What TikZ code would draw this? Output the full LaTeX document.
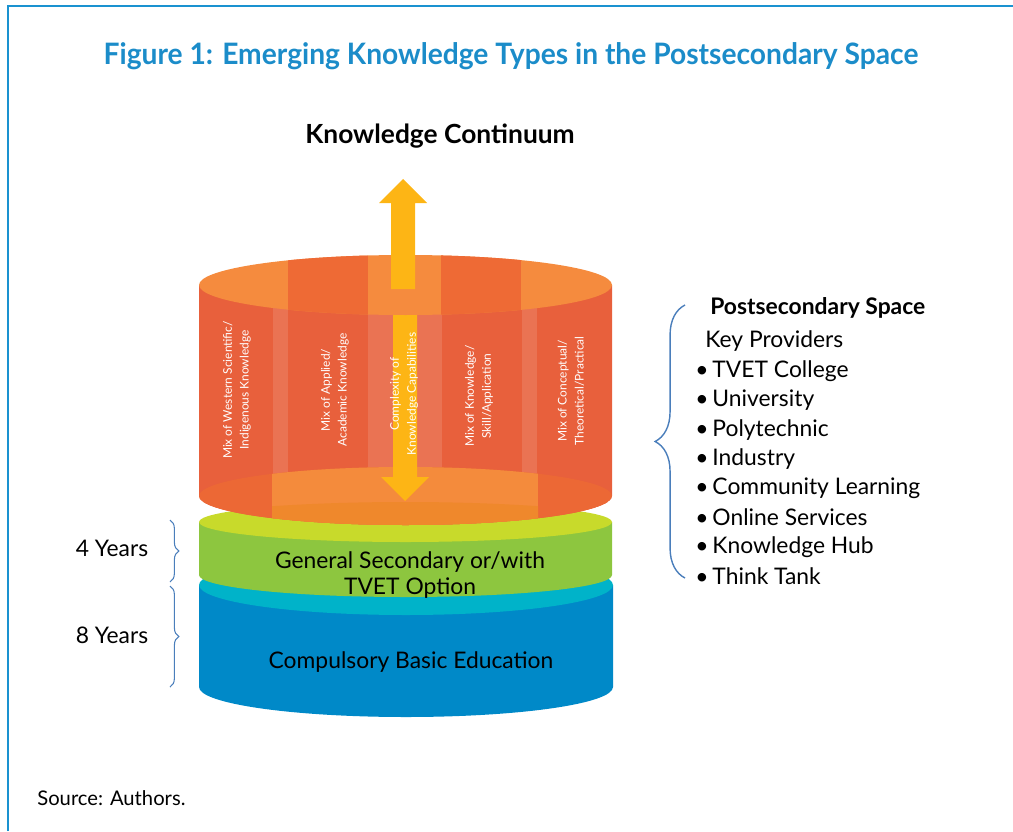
\documentclass[tikz,border=0pt]{standalone}
\usepackage{graphicx}
\usepackage{fontspec}
\setmainfont{Lato}
\usetikzlibrary{positioning}
\usetikzlibrary{calc}
\usetikzlibrary{decorations.pathreplacing}

\definecolor{frameblue}{HTML}{1A92D0}
\definecolor{titleblue}{HTML}{1B8CC9}
\definecolor{orangeside}{HTML}{E8603C}
\definecolor{orangefloor}{HTML}{EC6835}
\definecolor{orangetop}{HTML}{F58B3E}
\definecolor{orangeband}{HTML}{EE6A35}
\definecolor{orangebase}{HTML}{F48B3C}
\definecolor{orangedeep}{HTML}{EF882C}
\definecolor{arrowgold}{HTML}{FDB515}
\definecolor{greentop}{HTML}{C8DA2B}
\definecolor{greenside}{HTML}{8DC63F}
\definecolor{cyantop}{HTML}{00B3C9}
\definecolor{blueside}{HTML}{0089C8}
\definecolor{bracecol}{HTML}{4A7EBB}

\tikzset{
  bodytext/.style={font=\fontsize{13}{15.3}\selectfont, inner sep=0pt},
  sidetext/.style={text=white, font=\fontsize{6.8}{9.6}\selectfont, rotate=90, align=center, inner sep=0pt},
  yearbrace/.style={draw=bracecol, line width=#1, decorate},
}

\begin{document}
\begin{tikzpicture}[x=0.02cm, y=-0.02cm]

\useasboundingbox (0,0) rectangle (1013,831);

% page frame
\draw[frameblue, line width=1.1pt] (8,831) -- (8,6) -- (1013,6);

\node[font=\fontsize{16.8}{20}\selectfont\bfseries, text=titleblue] (title) at (511,56) {\scalebox{0.955}[1]{Figure 1: Emerging Knowledge Types in the Postsecondary Space}};
\node[font=\fontsize{15}{18}\selectfont\bfseries] (kcont) at (440,136) {Knowledge Continuum};

% basic education disk
\fill[blueside] (199,585) -- (199,687) arc[start angle=180, end angle=0, x radius=207, y radius=30] -- (613,585) -- cycle;
\fill[cyantop] (406,585) ellipse [x radius=207, y radius=30];

% secondary disk
\fill[greenside] (199,522) -- (199,575) arc[start angle=180, end angle=0, x radius=206.5, y radius=22] -- (612,575) -- (612,522) -- cycle;
\fill[greentop] (405.5,522) ellipse [x radius=206.5, y radius=20];

% postsecondary cylinder
\fill[orangeside] (199,285) -- (199,496) arc[start angle=180, end angle=0, x radius=206.5, y radius=29] -- (612,285) -- cycle;
\begin{scope}
  \clip (199,285) -- (199,496) arc[start angle=180, end angle=0, x radius=206.5, y radius=29] -- (612,285) -- cycle;
  \fill[white, opacity=0.12] (273,280) rectangle (288,530);
  \fill[white, opacity=0.12] (368,280) rectangle (442,530);
  \fill[white, opacity=0.12] (522,280) rectangle (537,530);
  \fill[orangefloor] (405.5,496) ellipse [x radius=206.5, y radius=29];
  \clip (405.5,496) ellipse [x radius=206.5, y radius=29];
  \fill[orangebase] (272,460) rectangle (538,530);
  \clip (272,460) rectangle (538,530);
  \fill[orangedeep] (405.5,532) ellipse [x radius=260, y radius=30];
\end{scope}

\fill[arrowgold] (393,300) -- (393,477) -- (381,477) -- (405,501) -- (429,477) -- (417,477) -- (417,300) -- cycle;

\fill[orangetop] (405.5,285) ellipse [x radius=206.5, y radius=30];
\begin{scope}
  \clip (405.5,285) ellipse [x radius=206.5, y radius=30];
  \fill[orangeband] (288,250) rectangle (368,320);
  \fill[orangeband] (441,250) rectangle (521,320);
\end{scope}

\fill[arrowgold] (391,289) -- (391,203) -- (379,203) -- (403,179) -- (427,203) -- (415,203) -- (415,289) -- cycle;

% knowledge types on the cylinder wall
\node[sidetext] (western) at (237,390) {Mix of Western Scientific/\\Indigenous Knowledge};
\node[sidetext] (applied) at (335,390) {Mix of Applied/\\Academic Knowledge};
\node[sidetext] (complexity) at (404,394) {Complexity of\\Knowledge Capabilities};
\node[sidetext] (skill) at (479,396) {Mix of Knowledge/\\Skill/Application};
\node[sidetext] (conceptual) at (571,391) {Mix of Conceptual/\\Theoretical/Practical};

\node[bodytext, align=center] (gensec) at (410,575) {General Secondary or/with\\TVET Option};
\node[bodytext] (basic) at (411,662) {Compulsory Basic Education};

% years
\node[bodytext] (four) at (112,548) {4 Years};
\node[bodytext] (eight) at (112,635) {8 Years};
\coordinate (fourtop) at (170,520);
\coordinate (fourbot) at (170,582);
\coordinate (eighttop) at (170,586);
\coordinate (eightbot) at (170,687);
\draw[yearbrace=0.6pt, decoration={brace, amplitude=5pt}] (fourtop) -- (fourbot);
\draw[yearbrace=0.6pt, decoration={brace, amplitude=5pt}] (eighttop) -- (eightbot);

% providers
\coordinate (spacebot) at (685,578);
\coordinate (spacetop) at (685,305);
\draw[yearbrace=0.8pt, decoration={brace, amplitude=17pt}] (spacebot) -- (spacetop);

\node[bodytext, font=\fontsize{13}{15}\selectfont\bfseries, anchor=west] (pspace) at (710,308) {Postsecondary Space};
\node[bodytext, anchor=west] (keyprov) at (705,341) {Key Providers};
\foreach \prov [count=\i from 0] in {TVET College, University, Polytechnic, Industry, Community Learning, Online Services, Knowledge Hub, Think Tank}
  \node[bodytext, anchor=west] (prov\i) at (695,{371+29.3*\i}) {•\hspace{2.2pt}\prov};

\node[bodytext, font=\fontsize{11.5}{13}\selectfont, anchor=west] (source) at (37,798) {Source: Authors.};

\end{tikzpicture}
\end{document}
